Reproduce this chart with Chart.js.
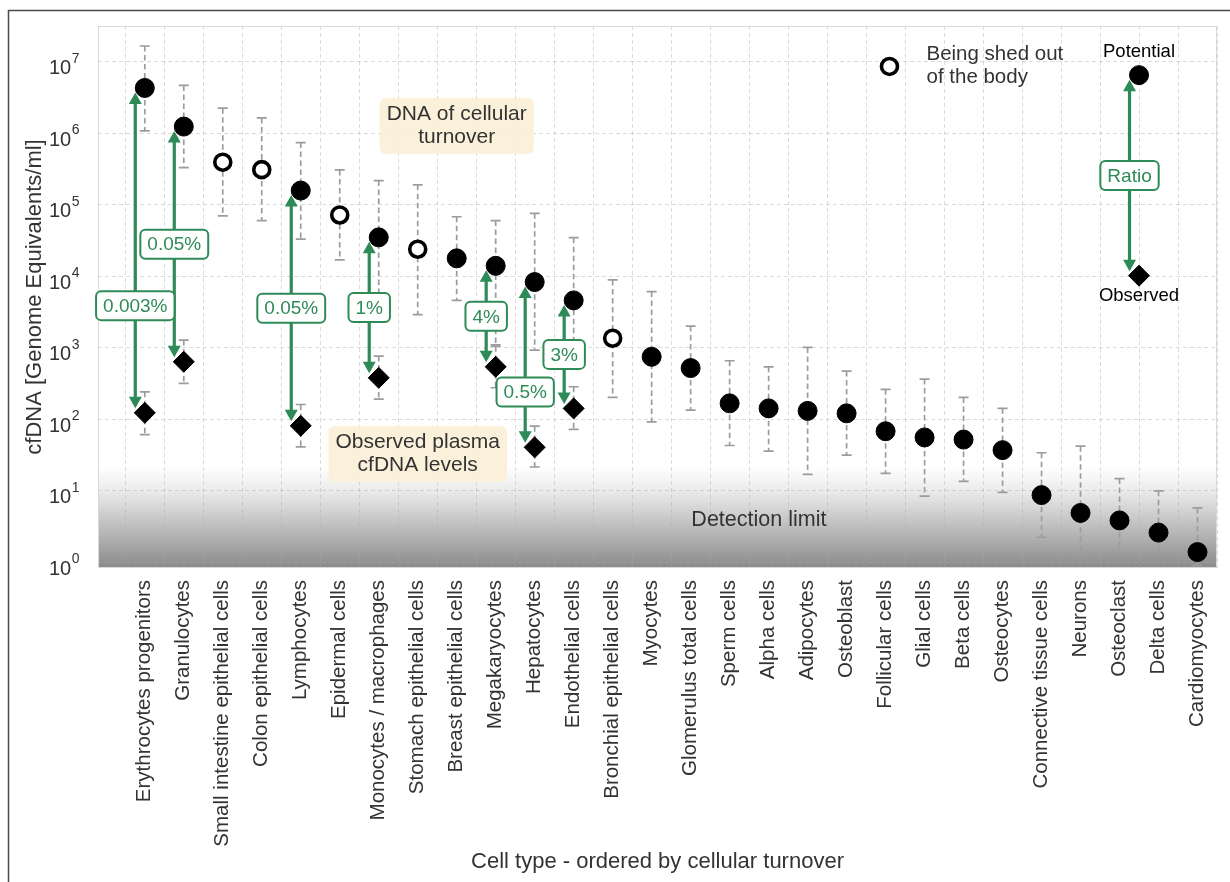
<!DOCTYPE html>
<html>
<head>
<meta charset="utf-8">
<title>cfDNA by cell type</title>
<script src="https://cdn.jsdelivr.net/npm/chart.js@4.4.1/dist/chart.umd.min.js"></script>
<style>
  html, body { margin: 0; padding: 0; background: #fff; }
  canvas { display: block; }
</style>
</head>
<body>
<canvas id="chart" width="1230" height="882" style="width:1230px;height:882px"></canvas>
<script>
// ---- data -------------------------------------------------------------
const cellTypes = [
  'Erythrocytes progenitors', 'Granulocytes', 'Small intestine epithelial cells',
  'Colon epithelial cells', 'Lymphocytes', 'Epidermal cells', 'Monocytes / macrophages',
  'Stomach epithelial cells', 'Breast epithelial cells', 'Megakaryocytes', 'Hepatocytes',
  'Endothelial cells', 'Bronchial epithelial cells', 'Myocytes', 'Glomerulus total cells',
  'Sperm cells', 'Alpha cells', 'Adipocytes', 'Osteoblast', 'Follicular cells', 'Glial cells',
  'Beta cells', 'Osteocytes', 'Connective tissue cells', 'Neurons', 'Osteoclast',
  'Delta cells', 'Cardiomyocytes'
];

// cells whose DNA is mostly lost out of the body (open markers)
const shedOutOfBody = [
  false, false, true, true, false, true, false, true, false, false, false, false, true, false,
  false, false, false, false, false, false, false, false, false, false, false, false, false, false
];

// potential cfDNA from cellular turnover [genome equivalents / ml]
const potential = [
  4.3e6, 1.24e6, 3.94e5, 3.1e5, 1.58e5, 7.2e4, 3.5e4, 2.39e4, 1.78e4, 1.4e4, 8.3e3, 4.6e3,
  1.36e3, 748, 520, 167, 142, 131, 121, 68, 55.7, 52, 37, 8.7, 4.9, 3.85, 2.6, 1.39
];
const potentialLow = [
  1.08e6, 3.3e5, 6.98e4, 6.0e4, 3.3e4, 1.69e4, 3.4e3, 2.9e3, 4.6e3, 1.1e3, 929, 600,
  202, 92, 134, 43, 35.8, 17, 31.5, 17.5, 8.4, 13.5, 9.5, 2.24, 1.25, 1.35, 1.3, 0.9
];
const potentialHigh = [
  1.66e7, 4.66e6, 2.24e6, 1.64e6, 7.4e5, 3.07e5, 2.18e5, 1.9e5, 6.8e4, 6.0e4, 7.6e4, 3.47e4,
  8.9e3, 6.1e3, 2.01e3, 658, 542, 1.01e3, 472, 262, 365, 202, 142, 34, 42, 14.8, 10, 5.75
];

// observed plasma cfDNA levels (only where measured)
const observed = [
  123, 637, null, null, 81, null, 380, null, null, 542, 40.5, 142, null, null,
  null, null, null, null, null, null, null, null, null, null, null, null, null, null
];
const observedLow = [
  61, 318, null, null, 41, null, 191, null, null, 276, 21.5, 72, null, null,
  null, null, null, null, null, null, null, null, null, null, null, null, null, null
];
const observedHigh = [
  242, 1280, null, null, 161, null, 766, null, null, 1050, 80, 285, null, null,
  null, null, null, null, null, null, null, null, null, null, null, null, null, null
];

// observed / potential ratio labels
const ratioLabels = [
  '0.003%', '0.05%', null, null, '0.05%', null, '1%', null, null, '4%', '0.5%', '3%', null, null,
  null, null, null, null, null, null, null, null, null, null, null, null, null, null
];

const yExponents = [0, 1, 2, 3, 4, 5, 6, 7];
const detectionLimit = 10;
const xTitle = 'Cell type - ordered by cellular turnover';
const yTitle = 'cfDNA [Genome Equivalents/ml]';

// ---- layout of annotations (not data) ---------------------------------
// where along each arrow (0 = potential, 1 = observed) its ratio box sits
const ratioLabelAt = { 0: 0.67, 1: 0.5, 4: 0.5, 6: 0.5, 9: 0.5, 10: 0.665, 11: 0.5 };
const noteBoxes = [
  { lines: ['DNA of cellular', 'turnover'], x: 8.0, y: 1.26e6 },
  { lines: ['Observed plasma', 'cfDNA levels'], x: 7.0, y: 32.7 }
];
const keyShed = { x: 19.1, y: 8.6e6, lines: ['Being shed out', 'of the body'] };
const keyRatio = { x: 25.5, potential: 6.5e6, observed: 1.02e4 };
const detectionText = { x: 15.75, y: 3.9, text: 'Detection limit' };

// ---- styling ----------------------------------------------------------
const FONT = "'Liberation Sans', Arial, Helvetica, sans-serif";
const GREEN = '#2e8b57';
const ERR_GRAY = '#9c9c9c';
const TEXT = '#333333';
const ARROW_DX = -9.5;

Chart.defaults.font.family = FONT;

const filledPts = [], shedPts = [], obsPts = [];
cellTypes.forEach((_, i) => {
  (shedOutOfBody[i] ? shedPts : filledPts).push({ x: i, y: potential[i] });
  if (observed[i] != null) obsPts.push({ x: i, y: observed[i] });
});

function roundRectPath(ctx, x, y, w, h, r) {
  ctx.beginPath();
  ctx.moveTo(x + r, y);
  ctx.lineTo(x + w - r, y);
  ctx.arcTo(x + w, y, x + w, y + r, r);
  ctx.lineTo(x + w, y + h - r);
  ctx.arcTo(x + w, y + h, x + w - r, y + h, r);
  ctx.lineTo(x + r, y + h);
  ctx.arcTo(x, y + h, x, y + h - r, r);
  ctx.lineTo(x, y + r);
  ctx.arcTo(x, y, x + r, y, r);
  ctx.closePath();
}

function errorBar(ctx, x, yLo, yHi) {
  ctx.save();
  ctx.strokeStyle = ERR_GRAY;
  ctx.lineWidth = 1.7;
  ctx.setLineDash([5.5, 3.5]);
  ctx.beginPath();
  ctx.moveTo(x, yHi);
  ctx.lineTo(x, yLo);
  ctx.stroke();
  ctx.setLineDash([]);
  ctx.beginPath();
  ctx.moveTo(x - 5, yHi); ctx.lineTo(x + 5, yHi);
  ctx.moveTo(x - 5, yLo); ctx.lineTo(x + 5, yLo);
  ctx.stroke();
  ctx.restore();
}

function arrowHead(ctx, x, y, dir) {
  // dir -1: tip points up, +1: tip points down
  ctx.beginPath();
  ctx.moveTo(x, y);
  ctx.lineTo(x - 6.5, y - dir * 11.5);
  ctx.lineTo(x + 6.5, y - dir * 11.5);
  ctx.closePath();
  ctx.fill();
}

function ratioArrow(ctx, x, yPot, yObs) {
  const top = yPot + 4.5, bot = yObs - 4.5;
  ctx.save();
  ctx.strokeStyle = GREEN;
  ctx.fillStyle = GREEN;
  ctx.lineWidth = 3.2;
  ctx.beginPath();
  ctx.moveTo(x, top + 8);
  ctx.lineTo(x, bot - 8);
  ctx.stroke();
  arrowHead(ctx, x, top, -1);
  arrowHead(ctx, x, bot, 1);
  ctx.restore();
}

function ratioBox(ctx, text, cx, cy) {
  ctx.save();
  ctx.font = '19px ' + FONT;
  const w = ctx.measureText(text).width + 14, h = 29;
  roundRectPath(ctx, cx - w / 2, cy - h / 2, w, h, 5);
  ctx.fillStyle = '#ffffff';
  ctx.fill();
  ctx.lineWidth = 2;
  ctx.strokeStyle = GREEN;
  ctx.stroke();
  ctx.fillStyle = GREEN;
  ctx.textAlign = 'center';
  ctx.textBaseline = 'middle';
  ctx.fillText(text, cx, cy + 1);
  ctx.restore();
}

function drawCircle(ctx, x, y, r, fill, stroke, lw) {
  ctx.beginPath();
  ctx.arc(x, y, r, 0, Math.PI * 2);
  ctx.fillStyle = fill; ctx.fill();
  ctx.lineWidth = lw; ctx.strokeStyle = stroke; ctx.stroke();
}

function drawDiamond(ctx, x, y, r) {
  ctx.beginPath();
  ctx.moveTo(x - r, y); ctx.lineTo(x, y - r); ctx.lineTo(x + r, y); ctx.lineTo(x, y + r);
  ctx.closePath();
  ctx.fillStyle = '#000'; ctx.fill();
  ctx.lineWidth = 1; ctx.strokeStyle = '#000'; ctx.stroke();
}

const figurePlugin = {
  id: 'figureDecor',
  beforeDraw(chart) {
    // detection-limit shading at the bottom of the plot area
    const { ctx, chartArea: a, scales: { y } } = chart;
    const top = y.getPixelForValue(detectionLimit * 2.2);
    const lim = y.getPixelForValue(detectionLimit);
    const g = ctx.createLinearGradient(0, top, 0, a.bottom);
    g.addColorStop(0, 'rgba(0,0,0,0)');
    g.addColorStop((lim - top) / (a.bottom - top), 'rgba(0,0,0,0.08)');
    g.addColorStop(1, 'rgba(0,0,0,0.46)');
    ctx.save();
    ctx.fillStyle = g;
    ctx.fillRect(a.left, top, a.right - a.left, a.bottom - top);
    ctx.restore();
  },
  beforeDatasetsDraw(chart) {
    const { ctx, chartArea: a, scales: { x, y } } = chart;
    ctx.save();
    // plot frame
    ctx.strokeStyle = '#d9d9d9';
    ctx.lineWidth = 1;
    ctx.strokeRect(a.left + 0.5, a.top + 0.5, a.right - a.left - 1, a.bottom - a.top - 1);

    // y tick labels as 10 with superscript exponent
    ctx.fillStyle = TEXT;
    ctx.textBaseline = 'alphabetic';
    ctx.textAlign = 'left';
    yExponents.forEach(e => {
      const py = y.getPixelForValue(Math.pow(10, e));
      ctx.font = '20px ' + FONT;
      const w = ctx.measureText('10').width;
      ctx.fillText('10', 49, py + 12.5);
      ctx.font = '14px ' + FONT;
      ctx.fillText(String(e), 49 + w + 0.5, py + 1);
    });

    // note boxes
    noteBoxes.forEach(b => {
      const cx = x.getPixelForValue(b.x), cy = y.getPixelForValue(b.y);
      ctx.font = '21px ' + FONT;
      const w = Math.max(...b.lines.map(t => ctx.measureText(t).width)) + 14;
      const h = 56;
      roundRectPath(ctx, cx - w / 2, cy - h / 2, w, h, 6);
      ctx.fillStyle = 'rgba(251,239,214,0.92)';
      ctx.fill();
      ctx.fillStyle = TEXT;
      ctx.textAlign = 'center';
      ctx.textBaseline = 'middle';
      b.lines.forEach((t, k) => ctx.fillText(t, cx, cy + (k - (b.lines.length - 1) / 2) * 23));
    });

    // detection limit label
    ctx.font = '21.5px ' + FONT;
    ctx.fillStyle = TEXT;
    ctx.textAlign = 'center';
    ctx.textBaseline = 'middle';
    ctx.fillText(detectionText.text, x.getPixelForValue(detectionText.x), y.getPixelForValue(detectionText.y));

    // error bars
    ctx.beginPath();
    ctx.rect(a.left, a.top, a.right - a.left, a.bottom - a.top);
    ctx.clip();
    cellTypes.forEach((_, i) => {
      const px = x.getPixelForValue(i);
      errorBar(ctx, px, y.getPixelForValue(potentialLow[i]), y.getPixelForValue(potentialHigh[i]));
      if (observed[i] != null) {
        errorBar(ctx, px, y.getPixelForValue(observedLow[i]), y.getPixelForValue(observedHigh[i]));
      }
    });
    ctx.restore();
  },
  afterDatasetsDraw(chart) {
    const { ctx, scales: { x, y } } = chart;
    // ratio arrows and their labels
    cellTypes.forEach((_, i) => {
      if (!ratioLabels[i]) return;
      const ax = x.getPixelForValue(i) + ARROW_DX;
      ratioArrow(ctx, ax, y.getPixelForValue(potential[i]), y.getPixelForValue(observed[i]));
    });
    cellTypes.forEach((_, i) => {
      if (!ratioLabels[i]) return;
      const ax = x.getPixelForValue(i) + ARROW_DX;
      const yp = y.getPixelForValue(potential[i]);
      const yo = y.getPixelForValue(observed[i]);
      ratioBox(ctx, ratioLabels[i], ax, yp + ratioLabelAt[i] * (yo - yp));
    });

    ctx.save();
    // key: open marker
    const sx = x.getPixelForValue(keyShed.x), sy = y.getPixelForValue(keyShed.y);
    drawCircle(ctx, sx, sy, 8, '#fff', '#000', 3.6);
    ctx.font = '20.5px ' + FONT;
    ctx.fillStyle = TEXT;
    ctx.textAlign = 'left';
    ctx.textBaseline = 'middle';
    ctx.fillText(keyShed.lines[0], sx + 37, sy - 12.5);
    ctx.fillText(keyShed.lines[1], sx + 37, sy + 10.5);

    // key: potential -> observed ratio
    const kx = x.getPixelForValue(keyRatio.x);
    const kp = y.getPixelForValue(keyRatio.potential);
    const ko = y.getPixelForValue(keyRatio.observed);
    ratioArrow(ctx, kx + ARROW_DX, kp, ko);
    drawCircle(ctx, kx, kp, 9.5, '#000', '#000', 1);
    drawDiamond(ctx, kx, ko, 10.5);
    ratioBox(ctx, 'Ratio', kx + ARROW_DX, (kp + ko) / 2);
    ctx.font = '18.5px ' + FONT;
    ctx.fillStyle = '#000';
    ctx.textAlign = 'center';
    ctx.fillText('Potential', kx, kp - 23);
    ctx.fillText('Observed', kx, ko + 20);

    // outer figure frame
    ctx.strokeStyle = '#4a4a4a';
    ctx.lineWidth = 1.5;
    ctx.beginPath();
    ctx.moveTo(8.5, chart.height);
    ctx.lineTo(8.5, 10.5);
    ctx.lineTo(chart.width, 10.5);
    ctx.stroke();
    ctx.restore();
  }
};

const gridStyle = {
  color: 'rgba(170,170,170,0.42)',
  lineWidth: 1,
  drawTicks: false
};

new Chart(document.getElementById('chart'), {
  type: 'scatter',
  data: {
    datasets: [
      {
        label: 'Potential',
        data: filledPts,
        pointStyle: 'circle',
        pointRadius: 9.5,
        pointBackgroundColor: '#000',
        pointBorderColor: '#000',
        pointBorderWidth: 1
      },
      {
        label: 'Being shed out of the body',
        data: shedPts,
        pointStyle: 'circle',
        pointRadius: 8,
        pointBackgroundColor: '#fff',
        pointBorderColor: '#000',
        pointBorderWidth: 3.6
      },
      {
        label: 'Observed',
        data: obsPts,
        pointStyle: 'rectRot',
        pointRadius: 10.5,
        pointBackgroundColor: '#000',
        pointBorderColor: '#000',
        pointBorderWidth: 1
      }
    ]
  },
  options: {
    responsive: false,
    animation: false,
    events: [],
    layout: { padding: { left: 0, right: 13, top: 26, bottom: 0 } },
    plugins: { legend: { display: false }, tooltip: { enabled: false } },
    scales: {
      x: {
        type: 'linear',
        min: -1.2,
        max: 27.5,
        bounds: 'data',
        afterBuildTicks: s => { s.ticks = cellTypes.map((_, i) => ({ value: i })); },
        afterFit: s => { s.height = 314; s.paddingLeft = 0; s.paddingRight = 0; },
        grid: Object.assign({ offset: true }, gridStyle),
        border: { display: false, dash: [4, 3] },
        ticks: {
          autoSkip: false,
          minRotation: 90,
          maxRotation: 90,
          padding: 12,
          color: TEXT,
          font: { size: 20.5 },
          callback: v => cellTypes[v] ?? ''
        },
        title: {
          display: true,
          text: xTitle,
          color: TEXT,
          font: { size: 22 },
          padding: { top: 0, bottom: 7 }
        }
      },
      y: {
        type: 'logarithmic',
        min: Math.pow(10, -0.08),
        max: Math.pow(10, 7.5),
        bounds: 'data',
        afterBuildTicks: s => { s.ticks = yExponents.map(e => ({ value: Math.pow(10, e), major: true })); },
        afterFit: s => { s.width = 98; s.paddingTop = 0; s.paddingBottom = 0; },
        grid: gridStyle,
        border: { display: false, dash: [4, 3] },
        ticks: { display: false },
        title: {
          display: true,
          text: yTitle,
          color: TEXT,
          font: { size: 22 },
          padding: { top: 22, bottom: 0 }
        }
      }
    }
  },
  plugins: [figurePlugin]
});
</script>
</body>
</html>
